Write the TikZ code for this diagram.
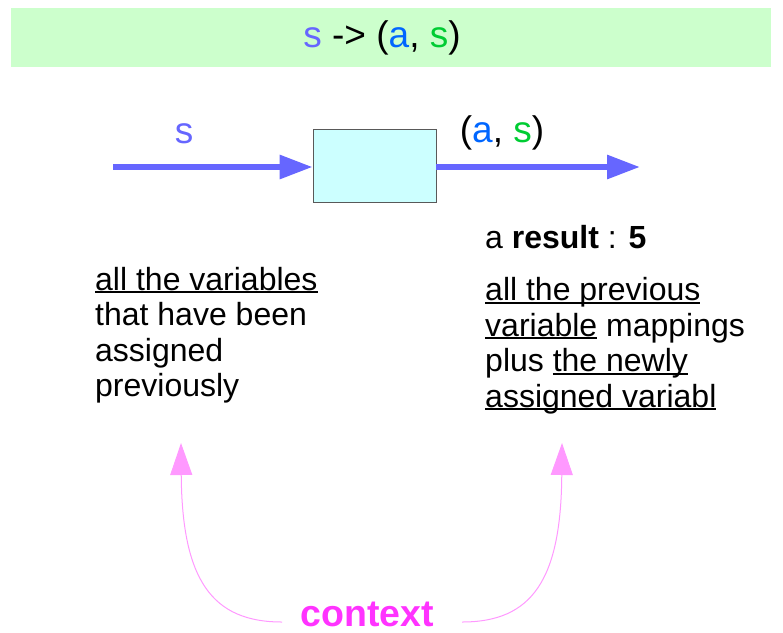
\documentclass[tikz,border=0pt]{standalone}
\usepackage{fontspec}
\setmainfont{Liberation Sans}
\newsavebox{\mylinebox}
\newcommand{\myul}[1]{\sbox{\mylinebox}{#1}\rlap{\rule[-3pt]{\wd\mylinebox}{1.6pt}}\usebox{\mylinebox}}
\usetikzlibrary{arrows.meta}
\definecolor{titlegreen}{HTML}{CCFFCC}
\definecolor{boxcyan}{HTML}{CCFFFF}
\definecolor{arrowblue}{HTML}{6666FF}
\definecolor{ablue}{HTML}{0066FF}
\definecolor{sgreen}{HTML}{00CC33}
\definecolor{ctxmag}{HTML}{FF33FF}
\definecolor{ctxpink}{HTML}{FF99FF}
\tikzset{
  band/.style={fill=titlegreen, draw=none, inner sep=0, minimum width=760pt, minimum height=59pt, anchor=north west},
  funbox/.style={fill=boxcyan, draw=black!65, line width=0.8pt, inner sep=0, minimum width=123pt, minimum height=73pt},
  flow/.style={draw=arrowblue, line width=6pt, -{Triangle[length=33pt,width=23pt]}},
  ctxarrow/.style={draw=ctxpink, line width=1pt, -{Triangle[length=32pt,width=22pt]}},
  bigtxt/.style={inner sep=0, font=\fontsize{37}{42}\selectfont},
  bodytxt/.style={inner sep=0, align=left, anchor=base west, font=\fontsize{32}{35.5}\selectfont},
}
\begin{document}
\begin{tikzpicture}[x=1pt,y=-1pt]
\useasboundingbox (0,0) rectangle (783,632);
\node[band] (title) at (11,8) {};
\node[bigtxt, anchor=base] (titletext) at (382,47) {\textcolor{arrowblue}{s} -> (\textcolor{ablue}{a}, \textcolor{sgreen}{s})};
\node[funbox] (box) at (374.5,165.5) {};
\coordinate (in) at (113,167);
\coordinate (out) at (640,167);
\draw[flow] (in) -- (box.west |- in);
\draw[flow] (box.east |- out) -- (out);
\node[bigtxt, anchor=base, text=arrowblue] (slabel) at (184,143) {s};
\node[bigtxt, anchor=base] (aslabel) at (502,142) {(\textcolor{ablue}{a}, \textcolor{sgreen}{s})};
\node[bodytxt] (result) at (485,248) {a \textbf{result} : \textbf{5}};
\node[bodytxt] (leftblk) at (95,396.5) {\myul{all the variables}\\that have been\\assigned\\previously};
\node[bodytxt] (rightblk) at (485,407) {\myul{all the previous}\\\myul{variable} mappings\\plus \myul{the newly}\\\myul{assigned variabl}};
\node[inner sep=0, text depth=0pt, anchor=base, text=ctxmag, font=\fontsize{37.5}{42}\selectfont\bfseries] (context) at (367,626.5) {context};
\coordinate (ctxL) at (282,622);
\coordinate (ctxR) at (462,622);
\coordinate (tipL) at (181,443);
\coordinate (tipR) at (562,443);
\draw[ctxarrow] (ctxL) .. controls (212,622) and (182,580) .. (tipL);
\draw[ctxarrow] (ctxR) .. controls (532,622) and (561,580) .. (tipR);
\end{tikzpicture}
\end{document}
